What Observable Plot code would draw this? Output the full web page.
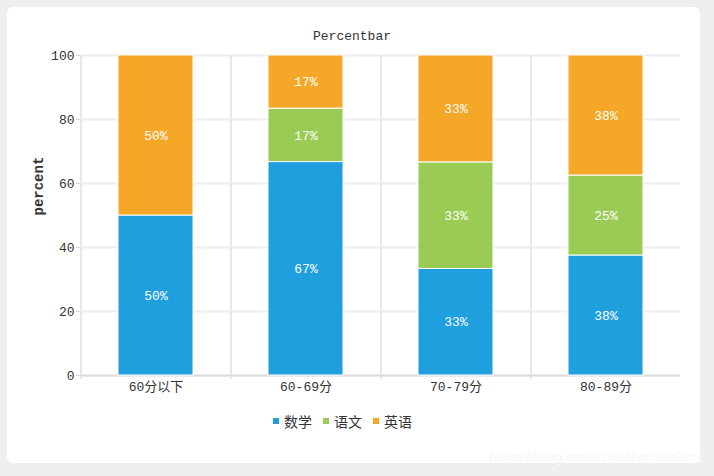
<!DOCTYPE html>
<html>
<head>
<meta charset="utf-8">
<script src="https://cdn.jsdelivr.net/npm/d3@7"></script>
<script src="https://cdn.jsdelivr.net/npm/@observablehq/plot@0.6"></script>
<style>
  html, body { margin: 0; padding: 0; background: #efefef; }
  body { width: 714px; height: 476px; position: relative; overflow: hidden;
         font-family: "Liberation Mono", "Noto Sans CJK SC", monospace; color: #333; }
  #card { position: absolute; left: 7px; top: 7px; width: 693px; height: 456px;
          background: #fff; border-radius: 6px; }
  #title { position: absolute; left: 0; width: 704px; top: 29px; text-align: center;
           font-size: 13px; color: #333; }
  #chart { position: absolute; left: 0; top: 0; }
  #legend { position: absolute; left: 273px; top: 411px; display: flex; align-items: center;
            font-family: "Noto Sans CJK SC", sans-serif; font-size: 14px; color: #333; }
  #legend .item { display: flex; align-items: center; margin-right: 11px; }
  #legend .sw { width: 6px; height: 6px; margin-right: 5px; }
  #wm { position: absolute; right: 10px; top: 448px; font-family: "Liberation Sans", Arial, sans-serif;
        font-size: 15px; color: #fff; text-shadow: 0 0 1px rgba(0,0,0,0.12); }
</style>
</head>
<body>
<div id="card"></div>
<div id="title">Percentbar</div>
<div id="chart"></div>
<div id="legend"></div>
<div id="wm">https://blog.csdn.net/theRookie1</div>
<script>
const categories = ["60分以下", "60-69分", "70-79分", "80-89分"];
const subjects = ["数学", "语文", "英语"];
const math = [50, 66.7, 33.3, 37.5];
const chinese = [0, 16.7, 33.3, 25];
const english = [50, 16.6, 33.4, 37.5];
const colors = ["#209FDF", "#9ACB54", "#F5A727"];
const yTicks = [0, 20, 40, 60, 80, 100];
const yLabel = "percent";

const series = [math, chinese, english];
const data = categories.flatMap((c, i) =>
  subjects.map((s, j) => ({category: c, subject: s, value: series[j][i]})));

const chart = Plot.plot({
  width: 714,
  height: 400,
  marginTop: 55,
  marginBottom: 25,
  marginLeft: 80,
  marginRight: 34,
  style: {background: "transparent", fontFamily: '"Liberation Mono", "Noto Sans CJK SC", monospace', fontSize: "13px", color: "#333"},
  x: {domain: categories, paddingInner: 0.5, paddingOuter: 0.25, label: null, axis: null},
  y: {domain: [0, 100], label: null, axis: null},
  color: {domain: subjects, range: colors},
  marks: [
    Plot.ruleY(yTicks, {stroke: "#eeeeee", strokeWidth: 2}),
    Plot.ruleX(categories, {dx: -75, stroke: "#e8e8e8", strokeWidth: 2, insetBottom: -4}),
    Plot.ruleY([0], {stroke: "#dddddd", strokeWidth: 2}),
    Plot.axisY(yTicks, {tickSize: 4, tickPadding: 2, stroke: "#dddddd", fill: "#333", label: null}),
    Plot.axisX({tickSize: 0, tickPadding: 6, fill: "#333", label: null}),
    Plot.barY(data, Plot.stackY({x: "category", y: "value", z: "subject", fill: "subject", stroke: "white", strokeWidth: 1})),
    Plot.text(data, Plot.stackY({x: "category", y: "value", z: "subject", filter: d => d.value > 0,
      text: d => Math.round(d.value) + "%", fill: "white", fontSize: 13})),
    Plot.text([yLabel], {frameAnchor: "left", rotate: -90, dx: -42, text: d => d, fontWeight: "bold", fontSize: 14, fill: "#333"})
  ]
});
document.getElementById("chart").appendChild(chart);

const legend = document.getElementById("legend");
subjects.forEach((s, i) => {
  const item = document.createElement("div");
  item.className = "item";
  const sw = document.createElement("div");
  sw.className = "sw";
  sw.style.background = colors[i];
  const t = document.createElement("span");
  t.textContent = s;
  item.appendChild(sw);
  item.appendChild(t);
  legend.appendChild(item);
});
</script>
</body>
</html>
